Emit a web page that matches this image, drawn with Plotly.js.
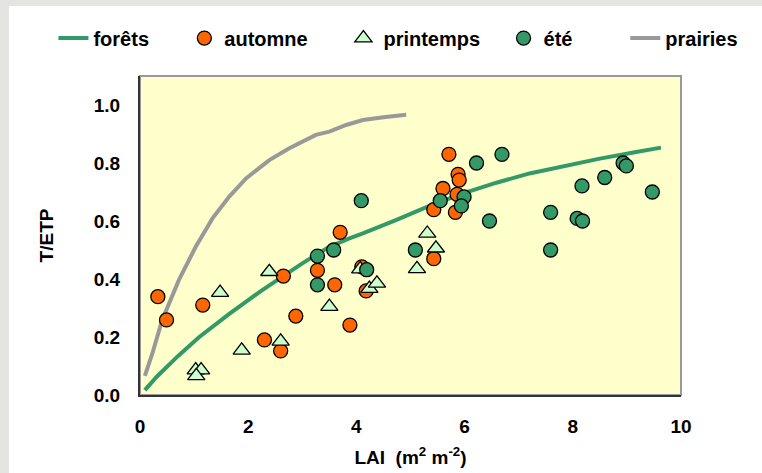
<!DOCTYPE html>
<html>
<head>
<meta charset="utf-8">
<script src="https://cdn.plot.ly/plotly-3.0.1.min.js"></script>
<style>
html,body{margin:0;padding:0;background:#e4e4e2;width:762px;height:473px;overflow:hidden;}
#chart{position:absolute;left:9px;top:6px;width:753px;height:467px;background:#fff;}
</style>
</head>
<body>
<div id="chart"></div>
<script>
// forêts curve
const foretsX = [0.09, 0.31, 0.70, 1.09, 1.65, 2.26, 3.00, 3.50, 3.87, 4.12, 4.73, 5.35, 5.97, 6.59, 7.20, 7.88, 8.50, 9.12, 9.63];
const foretsY = [0.017, 0.063, 0.134, 0.199, 0.280, 0.362, 0.454, 0.511, 0.540, 0.557, 0.603, 0.652, 0.695, 0.732, 0.764, 0.792, 0.815, 0.836, 0.853];
// prairies curve
const prairiesX = [0.09, 0.23, 0.41, 0.72, 1.03, 1.34, 1.65, 1.96, 2.39, 2.76, 3.25, 3.50, 3.81, 4.12, 4.50, 4.92];
const prairiesY = [0.066, 0.144, 0.259, 0.397, 0.511, 0.609, 0.684, 0.747, 0.810, 0.851, 0.897, 0.908, 0.931, 0.948, 0.958, 0.966];
// automne
const automneX = [0.33, 0.49, 1.16, 2.30, 2.60, 2.65, 2.88, 3.28, 3.60, 3.70, 3.88, 4.10, 4.18, 5.43, 5.43, 5.60, 5.71, 5.88, 5.90, 5.86, 5.83];
const automneY = [0.339, 0.259, 0.310, 0.190, 0.152, 0.410, 0.272, 0.430, 0.380, 0.561, 0.241, 0.442, 0.359, 0.470, 0.639, 0.712, 0.830, 0.761, 0.741, 0.692, 0.630];
// printemps
const printempsX = [1.03, 1.13, 1.04, 1.48, 1.88, 2.39, 2.60, 3.50, 4.07, 4.24, 4.38, 5.12, 5.31, 5.47];
const printempsY = [0.086, 0.086, 0.066, 0.353, 0.154, 0.425, 0.185, 0.305, 0.434, 0.367, 0.385, 0.435, 0.557, 0.506];
// été
const eteX = [3.28, 3.58, 3.28, 4.09, 4.19, 5.09, 5.55, 5.99, 5.94, 6.22, 6.69, 6.46, 7.59, 7.59, 8.08, 8.18, 8.17, 8.59, 8.93, 8.99, 9.47];
const eteY = [0.479, 0.500, 0.380, 0.670, 0.432, 0.500, 0.670, 0.683, 0.652, 0.800, 0.830, 0.600, 0.630, 0.500, 0.609, 0.600, 0.721, 0.750, 0.800, 0.790, 0.700];
// ticks
const xTicks = [0, 2, 4, 6, 8, 10];
const yTicks = [0.0, 0.2, 0.4, 0.6, 0.8, 1.0];

const font = {family: 'Liberation Sans, Arial, sans-serif', size: 19, color: '#000'};
const legFont = {family: 'Liberation Sans, Arial, sans-serif', size: 20, color: '#000'};
const bold = s => '<b>' + s + '</b>';

const traces = [
  {x: foretsX, y: foretsY, name: bold('forêts'), mode: 'lines', legend: 'legend',
   line: {color: '#339966', width: 4}},
  {x: prairiesX, y: prairiesY, name: bold('prairies'), mode: 'lines', legend: 'legend5',
   line: {color: '#999999', width: 4}},
  {x: automneX, y: automneY, name: bold('automne'), mode: 'markers', legend: 'legend2',
   marker: {symbol: 'circle', size: 14, color: '#ff6600', line: {color: '#000', width: 1.3}}},
  {x: printempsX, y: printempsY, name: bold('printemps'), mode: 'markers', legend: 'legend3',
   marker: {symbol: 'triangle-up', size: 15, color: '#ccffcc', line: {color: '#000', width: 1.3}}},
  {x: eteX, y: eteY, name: bold('été'), mode: 'markers', legend: 'legend4',
   marker: {symbol: 'circle', size: 14, color: '#339966', line: {color: '#000', width: 1.3}}}
];

const leg = x => ({orientation: 'h', x: x, xanchor: 'left', y: 1.119, yanchor: 'middle',
                   font: legFont, bgcolor: 'rgba(0,0,0,0)'});

const layout = {
  width: 753, height: 467,
  margin: {l: 131, r: 81, t: 70, b: 78},
  paper_bgcolor: '#ffffff',
  plot_bgcolor: '#ffffcc',
  font: font,
  showlegend: true,
  legend: leg(-0.160),
  legend2: leg(0.082),
  legend3: leg(0.376),
  legend4: leg(0.672),
  legend5: leg(0.897),
  // labelled x axis: transparent outside ticks push the labels down
  xaxis: {
    range: [0, 10], tickvals: xTicks, ticktext: xTicks.map(v => bold(String(v))),
    ticks: 'outside', ticklen: 13, tickwidth: 1, tickcolor: 'rgba(0,0,0,0)',
    showline: true, linecolor: '#333', linewidth: 2, mirror: false,
    showgrid: false, zeroline: false,
    title: {text: bold('LAI  (m<sup>2</sup> m<sup>-2</sup>)'), font: font, standoff: 15}
  },
  // overlay x axis carrying the visible inside ticks
  xaxis2: {
    overlaying: 'x', matches: 'x', side: 'bottom', tickvals: xTicks,
    showticklabels: false, ticks: 'inside', ticklen: 5, tickwidth: 1.5, tickcolor: '#333',
    showline: false, showgrid: false, zeroline: false
  },
  // labelled y axis: transparent outside ticks push the labels away from the axis
  yaxis: {
    range: [0, 1.1], tickvals: yTicks, ticktext: yTicks.map(v => bold(v.toFixed(1))),
    ticks: 'outside', ticklen: 14, tickwidth: 1, tickcolor: 'rgba(0,0,0,0)',
    showline: true, linecolor: '#333', linewidth: 2, mirror: false,
    showgrid: false, zeroline: false,
    title: {text: bold('T/ETP'), font: font, standoff: 35}
  },
  // overlay y axis carrying the visible inside ticks
  yaxis2: {
    overlaying: 'y', matches: 'y', side: 'left', tickvals: yTicks,
    showticklabels: false, ticks: 'inside', ticklen: 5, tickwidth: 1.5, tickcolor: '#333',
    showline: false, showgrid: false, zeroline: false
  },
  shapes: [
    {type: 'rect', xref: 'paper', yref: 'paper', x0: 0, x1: 1, y0: 0, y1: 1,
     line: {color: '#999999', width: 2}, layer: 'below'}
  ]
};

Plotly.newPlot('chart', traces, layout, {displayModeBar: false, staticPlot: true});
</script>
</body>
</html>
